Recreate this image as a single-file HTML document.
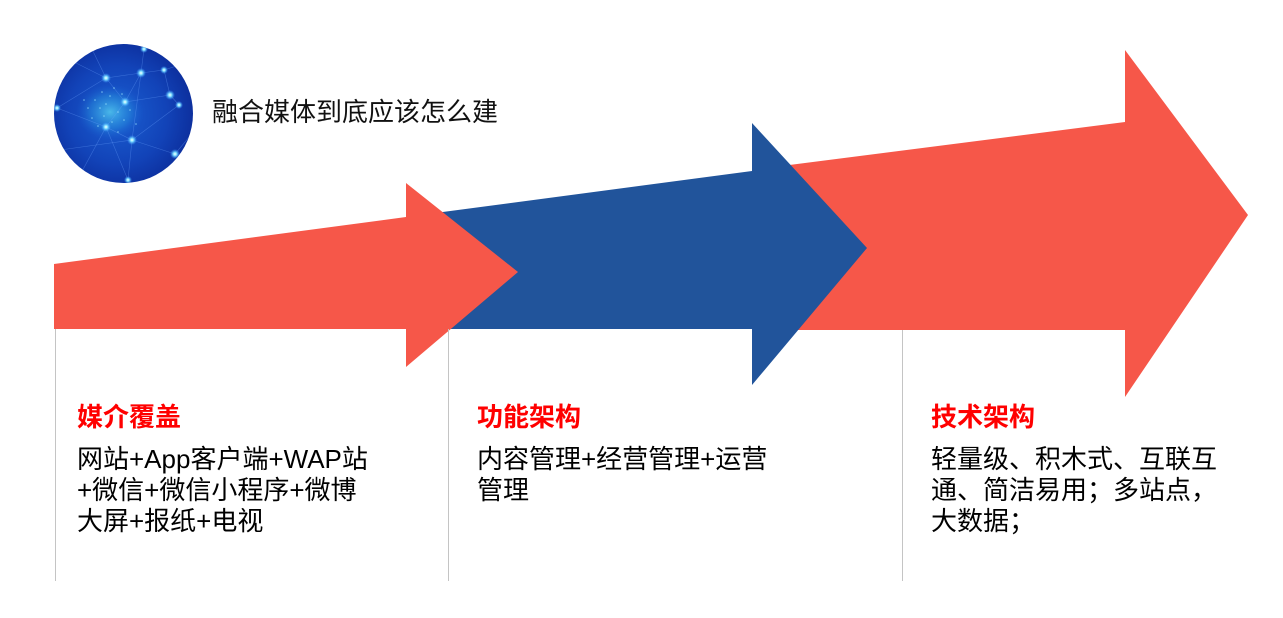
<!DOCTYPE html>
<html>
<head>
<meta charset="utf-8">
<style>
  html, body { margin:0; padding:0; background:#ffffff; }
  body { width:1283px; height:618px; position:relative; overflow:hidden;
         font-family:"Liberation Sans","Noto Sans CJK SC",sans-serif; }
  svg { position:absolute; left:0; top:0; }
  .t { position:absolute; white-space:nowrap; font-size:26px; line-height:31px; color:#000; }
  .h { font-weight:bold; color:#ff0000; }
</style>
</head>
<body>
<svg width="1283" height="618" viewBox="0 0 1283 618" xmlns="http://www.w3.org/2000/svg">
  <defs>
    <radialGradient id="bg" cx="0.45" cy="0.5" r="0.6">
      <stop offset="0" stop-color="#1a5fd2"/>
      <stop offset="0.55" stop-color="#1243b8"/>
      <stop offset="1" stop-color="#0a2590"/>
    </radialGradient>
    <radialGradient id="brain" cx="0.5" cy="0.5" r="0.5">
      <stop offset="0" stop-color="#5fe0f4" stop-opacity="0.7"/>
      <stop offset="0.6" stop-color="#2fa8e6" stop-opacity="0.35"/>
      <stop offset="1" stop-color="#1a63d6" stop-opacity="0"/>
    </radialGradient>
    <radialGradient id="glow" cx="0.5" cy="0.5" r="0.5">
      <stop offset="0" stop-color="#ffffff"/>
      <stop offset="0.35" stop-color="#7fe0ff"/>
      <stop offset="1" stop-color="#2f8cff" stop-opacity="0"/>
    </radialGradient>
    <clipPath id="cc"><circle cx="123.5" cy="113.5" r="69.5"/></clipPath>
  </defs>

  <!-- circle image -->
  <g clip-path="url(#cc)">
    <rect x="50" y="40" width="150" height="150" fill="url(#bg)"/>
    <ellipse cx="110" cy="112" rx="34" ry="28" fill="url(#brain)"/>
    <g stroke="#6fa6ff" stroke-opacity="0.4" stroke-width="0.6" fill="none">
      <polyline points="57,108 106,78 141,73 164,70 170,95 179,105"/>
      <polyline points="106,78 125,102 106,127 132,140 175,154"/>
      <polyline points="141,73 125,102 170,95"/>
      <polyline points="57,108 106,127 128,180"/>
      <polyline points="144,49 141,73 132,140 128,180"/>
      <polyline points="179,105 132,140 60,150"/>
      <polyline points="164,70 195,60"/>
      <polyline points="70,60 106,78 90,45"/>
      <polyline points="175,154 195,130"/>
      <polyline points="106,127 80,175"/>
    </g>
    <g fill="#9fe8ff" fill-opacity="0.7">
      <circle cx="95" cy="100" r="0.8"/><circle cx="100" cy="108" r="0.8"/><circle cx="110" cy="96" r="0.8"/>
      <circle cx="118" cy="112" r="0.8"/><circle cx="92" cy="118" r="0.8"/><circle cx="124" cy="120" r="0.8"/>
      <circle cx="112" cy="122" r="0.8"/><circle cx="130" cy="110" r="0.8"/><circle cx="102" cy="92" r="0.8"/>
      <circle cx="88" cy="108" r="0.8"/><circle cx="136" cy="124" r="0.8"/><circle cx="118" cy="132" r="0.8"/>
      <circle cx="84" cy="100" r="0.8"/><circle cx="98" cy="126" r="0.8"/><circle cx="106" cy="104" r="0.8"/>
      <circle cx="114" cy="88" r="0.8"/><circle cx="122" cy="94" r="0.8"/><circle cx="104" cy="116" r="0.8"/>
    </g>
    <g fill="url(#glow)">
      <circle cx="106" cy="78" r="5"/><circle cx="141" cy="73" r="5"/><circle cx="164" cy="70" r="4"/>
      <circle cx="170" cy="95" r="5"/><circle cx="179" cy="105" r="4"/><circle cx="125" cy="102" r="5"/>
      <circle cx="106" cy="127" r="5"/><circle cx="132" cy="140" r="5"/><circle cx="57" cy="108" r="4"/>
      <circle cx="175" cy="154" r="5"/><circle cx="128" cy="180" r="4"/><circle cx="144" cy="49" r="4"/>
    </g>
  </g>

  <!-- arrow 3 (red, back) -->
  <polygon points="762,168.5 1125,122 1125,50 1248,215 1125,397 1125,330 762,330" fill="#f65749"/>
  <!-- arrow 2 (blue) -->
  <polygon points="420,215 752,171 752,123 867,248 752,385 752,329 420,329" fill="#21549b"/>
  <!-- arrow 1 (red, front) -->
  <polygon points="54,264 406,217 406,183 518,272 406,367 406,329 54,329" fill="#f65749"/>

  <!-- separators -->
  <g stroke="#c4c4c4" stroke-width="1">
    <line x1="55.5" y1="329" x2="55.5" y2="581"/>
    <line x1="448.5" y1="329" x2="448.5" y2="581"/>
    <line x1="902.5" y1="330" x2="902.5" y2="581"/>
  </g>
</svg>

<div class="t" style="left:212px; top:97px; color:#111;">融合媒体到底应该怎么建</div>

<div class="t h" style="left:77px; top:402px;">媒介覆盖</div>
<div class="t" style="left:77px; top:444px;">网站+App客户端+WAP站<br>+微信+微信小程序+微博<br>大屏+报纸+电视</div>

<div class="t h" style="left:477px; top:402px;">功能架构</div>
<div class="t" style="left:477px; top:444px;">内容管理+经营管理+运营<br>管理</div>

<div class="t h" style="left:931px; top:402px;">技术架构</div>
<div class="t" style="left:931px; top:444px;">轻量级、积木式、互联互<br>通、简洁易用；多站点，<br>大数据；</div>
</body>
</html>
